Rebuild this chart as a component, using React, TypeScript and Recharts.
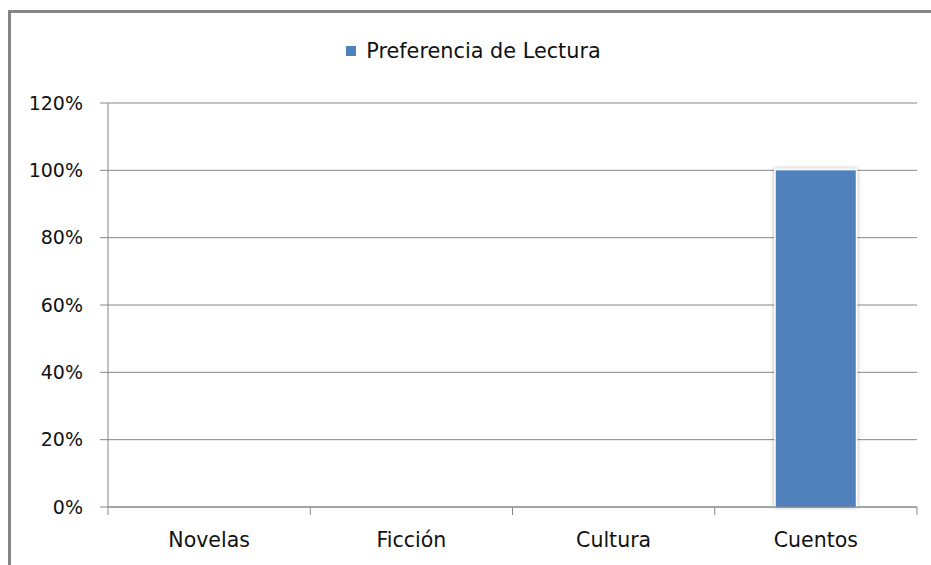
import React from 'react';
import { BarChart, Bar, XAxis, YAxis, CartesianGrid, Legend } from 'recharts';

const categories = ['Novelas', 'Ficción', 'Cultura', 'Cuentos'];
const preferencia = [0, 0, 0, 1];
const yTicks = [0, 0.2, 0.4, 0.6, 0.8, 1.0, 1.2];
const boundaryTicks = [0, 1, 2, 3, 4];
const seriesName = 'Preferencia de Lectura';

const data = categories.map((c, i) => ({ name: c, pos: i + 0.5, value: preferencia[i] }));

const FONT = '"DejaVu Sans", sans-serif';
const GRAY = '#868686';
const BLUE = '#4F81BD';
const TEXT = '#111';

const BarShape = (props: any) => {
  const { x, y, width, height } = props;
  if (!height || height <= 0) return <g />;
  return (
    <g>
      <defs>
        <filter id="barShadow" x="-20%" y="-10%" width="140%" height="120%">
          <feDropShadow dx="0" dy="0" stdDeviation="2" floodColor="#000" floodOpacity="0.35" />
        </filter>
      </defs>
      <rect x={x - 1.5} y={y - 1.5} width={width + 3} height={height + 1.5} fill="#fff" filter="url(#barShadow)" />
      <rect x={x} y={y} width={width} height={height} fill={BLUE} />
    </g>
  );
};

const LegendContent = (props: any) => {
  const items = props.payload || [];
  return (
    <div style={{ height: 26, display: 'flex', justifyContent: 'center', alignItems: 'center', paddingLeft: 16 }}>
      {items.map((it: any, i: number) => (
        <div key={i} style={{ display: 'flex', alignItems: 'center' }}>
          <div style={{ width: 10, height: 10, background: BLUE, marginRight: 10 }} />
          <span style={{ fontFamily: FONT, fontSize: 20.8, color: TEXT, lineHeight: '26px' }}>{it.value}</span>
        </div>
      ))}
    </div>
  );
};

const EmptyTick = () => <g />;

export default function App() {
  return (
    <div style={{ position: 'relative', width: 931, height: 565, overflow: 'hidden', background: '#fff' }}>
      <style>{`body{margin:0;}`}</style>
      <div
        style={{
          position: 'absolute',
          left: 8,
          top: 10,
          width: 960,
          height: 600,
          border: `3px solid ${GRAY}`,
          boxSizing: 'border-box',
        }}
      />
      <div style={{ position: 'absolute', left: 0, top: 0 }}>
        <BarChart
          width={931}
          height={565}
          data={data}
          margin={{ top: 77, right: 14, bottom: 0, left: 0 }}
          barCategoryGap={0}
        >
          <CartesianGrid vertical={false} stroke={GRAY} strokeWidth={1} />
          <XAxis
            xAxisId="bnd"
            type="number"
            dataKey="pos"
            domain={[0, 4]}
            ticks={boundaryTicks}
            height={1}
            tick={EmptyTick}
            tickSize={8}
            tickLine={{ stroke: GRAY }}
            axisLine={{ stroke: GRAY }}
            allowDataOverflow
            interval={0}
          />
          <XAxis
            xAxisId="lbl"
            dataKey="name"
            height={57}
            tickLine={false}
            tickSize={0}
            tickMargin={24}
            axisLine={false}
            tick={{ fontFamily: FONT, fontSize: 20.5, fill: TEXT }}
            interval={0}
          />
          <YAxis
            width={108}
            domain={[0, 1.2]}
            ticks={yTicks}
            tickFormatter={(v: number) => `${Math.round(v * 100)}%`}
            tickSize={8}
            tickMargin={17}
            tickLine={{ stroke: GRAY }}
            axisLine={{ stroke: GRAY }}
            tick={{ fontFamily: FONT, fontSize: 19, fill: TEXT }}
            interval={0}
          />
          <Legend
            verticalAlign="top"
            align="center"
            wrapperStyle={{ top: 38, left: 0, width: 931 }}
            content={LegendContent}
          />
          <Bar
            xAxisId="lbl"
            dataKey="value"
            name={seriesName}
            fill={BLUE}
            barSize={80}
            shape={BarShape}
            isAnimationActive={false}
          />
        </BarChart>
      </div>
    </div>
  );
}
